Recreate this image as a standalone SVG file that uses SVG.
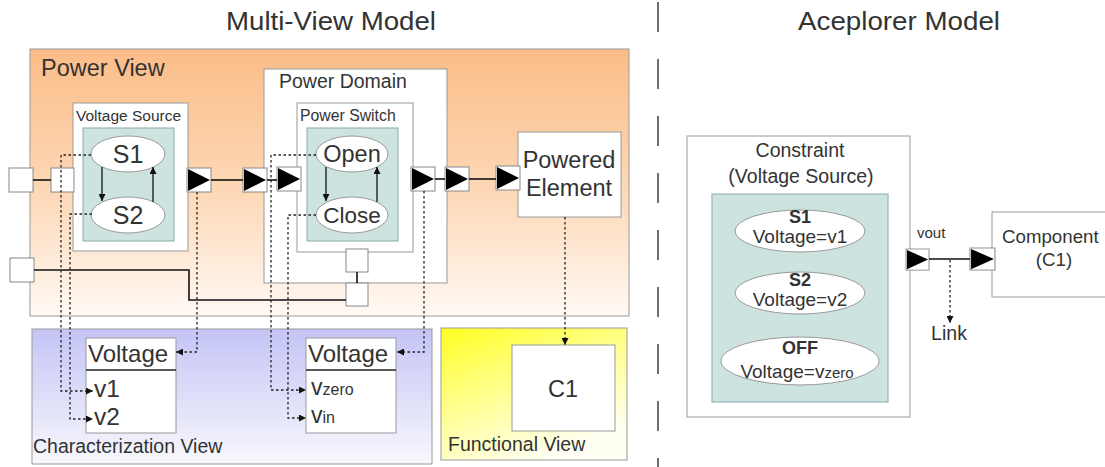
<svg xmlns="http://www.w3.org/2000/svg" xmlns:xlink="http://www.w3.org/1999/xlink" width="1105" height="467" viewBox="0 0 1105 467">
<style>
text{font-family:"Liberation Sans",Arial,sans-serif;fill:#333}
.box{fill:#fff;stroke:#999;stroke-width:1}
.teal{fill:#cde3e0;stroke:#8aa;stroke-width:1}
.st{fill:#fff;stroke:#999;stroke-width:1}
.sq{fill:#fff;stroke:#888;stroke-width:1}
.wire{fill:none;stroke:#111;stroke-width:1.6}
.dash{fill:none;stroke:#222;stroke-width:1.3;stroke-dasharray:2.5 2.5}
.arr{fill:none;stroke:#111;stroke-width:1.3}
</style>
<defs>
<linearGradient id="gPower" x1="0" y1="0" x2="0" y2="1">
<stop offset="0" stop-color="#fbbd88"/>
<stop offset="0.55" stop-color="#fdd9b8"/>
<stop offset="1" stop-color="#fff9f4"/>
</linearGradient>
<linearGradient id="gChar" x1="0" y1="0" x2="0" y2="1">
<stop offset="0" stop-color="#c4c4f6"/>
<stop offset="1" stop-color="#f8f8fd"/>
</linearGradient>
<linearGradient id="gFunc" x1="0" y1="0" x2="0.55" y2="1">
<stop offset="0" stop-color="#ffff20"/>
<stop offset="0.35" stop-color="#ffff70"/>
<stop offset="1" stop-color="#fffff4"/>
</linearGradient>
<g id="port">
<rect x="0" y="0" width="24" height="24" fill="#fff" stroke="#888" stroke-width="1"/>
<polygon points="1,1 1,23 23,12" fill="#000"/>
</g>
<marker id="ah" viewBox="0 0 10 10" refX="10" refY="5" markerWidth="7" markerHeight="7" orient="auto" markerUnits="userSpaceOnUse">
<path d="M0,0 L10,5 L0,10 z" fill="#111"/>
</marker>
</defs>
<rect width="1105" height="467" fill="#fff"/>

<g id="titles">
<text x="331" y="30" font-size="25" text-anchor="middle" textLength="210" lengthAdjust="spacingAndGlyphs">Multi-View Model</text>
<text x="899" y="30" font-size="25" text-anchor="middle" textLength="202" lengthAdjust="spacingAndGlyphs">Aceplorer Model</text>
<line x1="658" y1="2" x2="658" y2="467" stroke="#222" stroke-width="1.3" stroke-dasharray="30 27"/>
</g>

<g id="power-view">
<rect x="30" y="49" width="599" height="267" fill="url(#gPower)" stroke="#999"/>
<text x="41" y="76" font-size="23.5">Power View</text>
</g>

<g id="characterization-view">
<rect x="32" y="329" width="400" height="135" fill="url(#gChar)" stroke="#999"/>
<text x="33" y="453" font-size="19.5">Characterization View</text>
</g>

<g id="functional-view">
<rect x="441" y="328" width="186" height="132" fill="url(#gFunc)" stroke="#999"/>
<text x="448" y="451" font-size="19.5">Functional View</text>
</g>

<g id="voltage-source">
<rect class="box" x="73" y="103" width="115" height="148"/>
<text x="76" y="121" font-size="15.5">Voltage Source</text>
<rect class="teal" x="83" y="128" width="91" height="113"/>
</g>
<g id="state-s1">
<ellipse class="st" cx="128" cy="154" rx="37" ry="18"/>
<text x="128" y="163" font-size="25" text-anchor="middle">S1</text>
</g>
<g id="state-s2">
<ellipse class="st" cx="128" cy="215" rx="37" ry="18"/>
<text x="128" y="224" font-size="25" text-anchor="middle">S2</text>
</g>

<g id="power-domain">
<rect class="box" x="264" y="69" width="183" height="214"/>
<text x="279" y="88" font-size="19.5">Power Domain</text>
</g>
<g id="power-switch">
<rect class="box" x="297" y="103" width="116" height="149"/>
<text x="300" y="121" font-size="15.8">Power Switch</text>
<rect class="teal" x="307" y="128" width="91" height="113"/>
</g>
<g id="state-open">
<ellipse class="st" cx="352" cy="154" rx="36" ry="18"/>
<text x="352" y="162" font-size="23.5" text-anchor="middle">Open</text>
</g>
<g id="state-close">
<ellipse class="st" cx="352" cy="215" rx="36" ry="18"/>
<text x="352" y="223" font-size="22.5" text-anchor="middle">Close</text>
</g>

<g id="powered-element">
<rect class="box" x="518" y="132" width="103" height="85"/>
<text x="569" y="168" font-size="23.5" text-anchor="middle">Powered</text>
<text x="569" y="196" font-size="23.5" text-anchor="middle">Element</text>
</g>

<g id="voltage-char-1">
<rect class="box" x="86" y="338" width="90" height="95"/>
<line x1="86" y1="370" x2="176" y2="370" stroke="#222" stroke-width="1.3"/>
<text x="88" y="362" font-size="24">Voltage</text>
<text x="94" y="397" font-size="24.5">v1</text>
<text x="94" y="425" font-size="24.5">v2</text>
</g>
<g id="voltage-char-2">
<rect class="box" x="306" y="338" width="90" height="95"/>
<line x1="306" y1="370" x2="396" y2="370" stroke="#222" stroke-width="1.3"/>
<text x="308" y="362" font-size="24">Voltage</text>
<text x="311" y="395" font-size="23">v<tspan font-size="16">zero</tspan></text>
<text x="311" y="423" font-size="23">v<tspan font-size="16">in</tspan></text>
</g>

<g id="c1">
<rect class="box" x="512" y="345" width="103" height="86"/>
<text x="563" y="397" font-size="23.5" text-anchor="middle">C1</text>
</g>

<g id="ports">
<rect class="sq" x="9" y="168" width="24" height="24"/>
<rect class="sq" x="51" y="168" width="23" height="24"/>
<rect class="sq" x="10" y="258" width="24" height="24"/>
<rect class="sq" x="346" y="249" width="22" height="23"/>
<rect class="sq" x="346" y="283" width="22" height="23"/>
<use xlink:href="#port" href="#port" x="187" y="168"/>
<use xlink:href="#port" href="#port" x="243" y="168"/>
<use xlink:href="#port" href="#port" x="277" y="167"/>
<use xlink:href="#port" href="#port" x="411" y="167"/>
<use xlink:href="#port" href="#port" x="445" y="167"/>
<use xlink:href="#port" href="#port" x="496" y="166"/>
</g>

<g id="constraint">
<rect class="box" x="687" y="136" width="223" height="281"/>
<text x="800" y="157" font-size="19.5" text-anchor="middle">Constraint</text>
<text x="801" y="183" font-size="19.5" text-anchor="middle">(Voltage Source)</text>
<rect class="teal" x="712" y="194" width="176" height="208"/>
</g>
<g id="a-s1">
<ellipse class="st" cx="800" cy="231" rx="65" ry="21"/>
<text x="800" y="223" font-size="18" font-weight="bold" text-anchor="middle">S1</text>
<text x="800" y="243" font-size="19" text-anchor="middle">Voltage=v1</text>
</g>
<g id="a-s2">
<ellipse class="st" cx="800" cy="293" rx="65" ry="21"/>
<text x="800" y="286" font-size="18" font-weight="bold" text-anchor="middle">S2</text>
<text x="800" y="306" font-size="19" text-anchor="middle">Voltage=v2</text>
</g>
<g id="a-off">
<ellipse class="st" cx="800" cy="361" rx="79" ry="24"/>
<text x="800" y="354" font-size="18" font-weight="bold" text-anchor="middle">OFF</text>
<text x="797" y="378" font-size="19" text-anchor="middle">Voltage=v<tspan font-size="15">zero</tspan></text>
</g>
<g id="vout-port">
<use xlink:href="#port" href="#port" transform="translate(906,249) scale(0.96,0.88)"/>
<text x="917" y="238" font-size="15">vout</text>
</g>
<g id="component">
<rect class="box" x="992" y="212" width="125" height="85"/>
<text x="1002" y="243" font-size="18.7">Component</text>
<text x="1054" y="266" font-size="18.7" text-anchor="middle">(C1)</text>
<use xlink:href="#port" href="#port" transform="translate(970,248) scale(1.04,0.92)"/>
</g>
<g id="link-label">
<text x="949" y="340" font-size="19.5" text-anchor="middle">Link</text>
</g>

<g id="connectors">
<path class="wire" d="M33,180 H51"/>
<path class="wire" d="M34,270 H189 V300 H346"/>
<path class="wire" d="M211,180 H243"/>
<path class="wire" d="M267,180 H277"/>
<path class="wire" d="M435,179 H445"/>
<path class="wire" d="M469,179 H496"/>
<path class="wire" d="M357,272 V283"/>
<path class="arr" d="M102,167 V201" marker-end="url(#ah)"/>
<path class="arr" d="M153,202 V167" marker-end="url(#ah)"/>
<path class="arr" d="M326,167 V201" marker-end="url(#ah)"/>
<path class="arr" d="M377,202 V167" marker-end="url(#ah)"/>
<path class="dash" d="M91,155 H61 V391 H93" marker-end="url(#ah)"/>
<path class="dash" d="M92,214 H70 V419 H93" marker-end="url(#ah)"/>
<path class="dash" d="M197,192 V352 H176" marker-end="url(#ah)"/>
<path class="dash" d="M316,155 H271 V390 H306" marker-end="url(#ah)"/>
<path class="dash" d="M316,215 H288 V418 H306" marker-end="url(#ah)"/>
<path class="dash" d="M424,191 V352 H397" marker-end="url(#ah)"/>
<path class="dash" d="M565,217 V345" marker-end="url(#ah)"/>
<path class="wire" d="M929,259 H970" stroke-width="1.3"/>
<path class="dash" d="M950,260 V323" marker-end="url(#ah)"/>
</g>
</svg>
